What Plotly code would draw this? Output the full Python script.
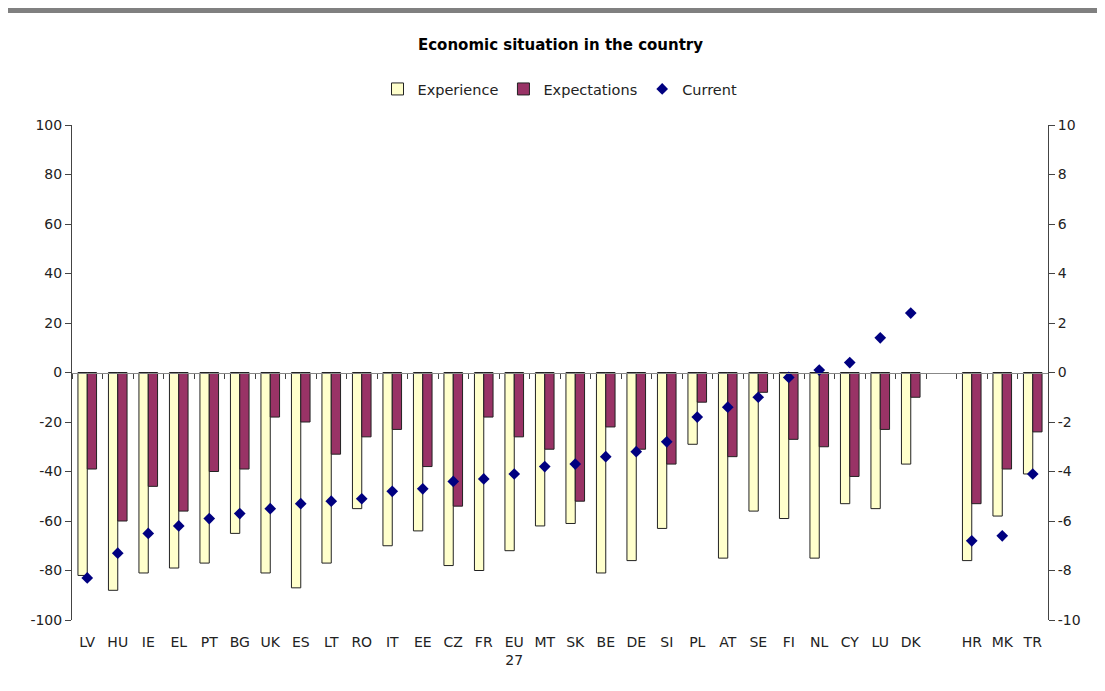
"""Economic situation in the country: experience / expectations bars with current balance markers."""
import plotly.graph_objects as go

COLOR_EXPERIENCE = "#ffffcc"
COLOR_EXPECTATIONS = "#993366"
COLOR_CURRENT = "#000080"
FONT_FAMILY = "Verdana, DejaVu Sans, sans-serif"

countries = [
    "LV", "HU", "IE", "EL", "PT", "BG", "UK", "ES", "LT", "RO", "IT", "EE", "CZ", "FR",
    "EU<br>27", "MT", "SK", "BE", "DE", "SI", "PL", "AT", "SE", "FI", "NL", "CY", "LU", "DK",
    " ", "HR", "MK", "TR",
]
experience = [
    -82, -88, -81, -79, -77, -65, -81, -87, -77, -55, -70, -64, -78, -80,
    -72, -62, -61, -81, -76, -63, -29, -75, -56, -59, -75, -53, -55, -37,
    None, -76, -58, -41,
]
expectations = [
    -39, -60, -46, -56, -40, -39, -18, -20, -33, -26, -23, -38, -54, -18,
    -26, -31, -52, -22, -31, -37, -12, -34, -8, -27, -30, -42, -23, -10,
    None, -53, -39, -24,
]
# current balance, read against the right-hand axis
current = [
    -8.3, -7.3, -6.5, -6.2, -5.9, -5.7, -5.5, -5.3, -5.2, -5.1, -4.8, -4.7, -4.4, -4.3,
    -4.1, -3.8, -3.7, -3.4, -3.2, -2.8, -1.8, -1.4, -1.0, -0.2, 0.1, 0.4, 1.4, 2.4,
    None, -6.8, -6.6, -4.1,
]

# axis tick labels (plain hyphen minus, as in the source chart)
left_ticks = [-100, -80, -60, -40, -20, 0, 20, 40, 60, 80, 100]
right_ticks = [-10, -8, -6, -4, -2, 0, 2, 4, 6, 8, 10]
left_tick_text = [str(v) for v in left_ticks]
right_tick_text = [str(v) for v in right_ticks]

fig = go.Figure()
fig.add_trace(go.Bar(
    x=countries, y=experience, name="Experience",
    marker=dict(color=COLOR_EXPERIENCE, line=dict(color="#222222", width=1)),
))
fig.add_trace(go.Bar(
    x=countries, y=expectations, name="Expectations",
    marker=dict(color=COLOR_EXPECTATIONS, line=dict(color="#222222", width=1)),
))
fig.add_trace(go.Scatter(
    x=countries, y=current, name="Current", mode="markers",
    xaxis="x2", yaxis="y2",
    marker=dict(symbol="diamond", size=9, color=COLOR_CURRENT),
))

n_cat = len(countries)
fig.update_layout(
    width=1105, height=691,
    paper_bgcolor="white", plot_bgcolor="white",
    font=dict(family=FONT_FAMILY, size=14, color="#222222"),
    title=dict(
        text="<b>Economic situation in the country</b>",
        x=0.5, xanchor="center", y=0.9465, yanchor="middle",
        font=dict(size=15, color="#000000"),
    ),
    barmode="group", bargap=0.39, bargroupgap=0,
    margin=dict(l=64, r=65, t=117, b=79),
    legend=dict(
        orientation="h", x=0.5, xanchor="center", y=1.0727, yanchor="middle",
        font=dict(size=14.5), traceorder="normal", itemwidth=30,
    ),
    xaxis=dict(
        type="category", categoryorder="array", categoryarray=countries,
        range=[-0.5, n_cat - 0.5], showline=False, ticks="", showgrid=False,
        tickfont=dict(size=14), ticklabelstandoff=12,
    ),
    xaxis2=dict(
        type="category", categoryorder="array", categoryarray=countries,
        range=[-0.5, n_cat - 0.5], overlaying="x", anchor="free", position=0.5,
        showline=True, linecolor="#888888", linewidth=1,
        ticks="outside", tickson="boundaries", ticklen=5, tickcolor="#444444",
        showticklabels=False, showgrid=False,
    ),
    yaxis=dict(
        range=[-100, 100], tickvals=left_ticks, ticktext=left_tick_text,
        showgrid=False, zeroline=False,
        showline=True, linecolor="#444444", linewidth=1,
        ticks="outside", ticklen=6, tickcolor="#444444",
        tickfont=dict(size=14),
    ),
    yaxis2=dict(
        range=[-10, 10], tickvals=right_ticks, ticktext=right_tick_text,
        overlaying="y", side="right", anchor="x2",
        showgrid=False, zeroline=False,
        showline=True, linecolor="#444444", linewidth=1,
        ticks="outside", ticklen=6, tickcolor="#444444",
        tickfont=dict(size=14),
    ),
    shapes=[dict(
        type="rect", xref="paper", yref="paper",
        x0=-0.0656, x1=1.07, y0=1.2263, y1=1.2364,
        fillcolor="#808080", line=dict(width=0),
    )],
)

fig.write_html("out.html")
